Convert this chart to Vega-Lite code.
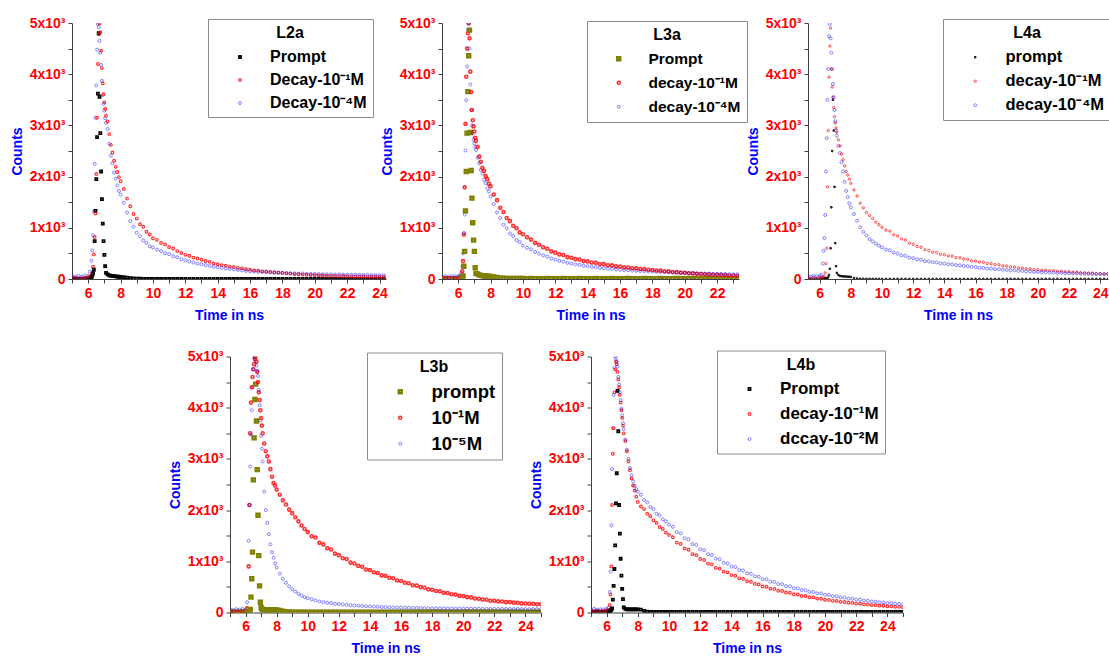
{
"$schema": "https://vega.github.io/schema/vega-lite/v6.json",
"background": "white",
"padding": {"left": 10, "top": 16, "right": 0, "bottom": 0},
"config": {
  "view": {"stroke": null},
  "font": "Liberation Sans",
  "axis": {"grid": false, "domainColor": "#404040", "tickColor": "#404040", "tickSize": 4, "labelFont": "Liberation Sans", "labelFontWeight": "bold", "labelFontSize": 14, "labelColor": "#ff0000", "labelPadding": 3, "titleFont": "Liberation Sans", "titleFontWeight": "bold", "titleFontSize": 14, "titleColor": "#0000ff", "labelOverlap": false, "labelFlush": false},
  "axisX": {"titlePadding": 8},
  "axisY": {"titlePadding": 5},
  "legend": {"labelFont": "Liberation Sans", "labelFontWeight": "bold", "labelFontSize": 16, "labelColor": "#000000", "titleFont": "Liberation Sans", "titleFontWeight": "bold", "titleFontSize": 16, "titleColor": "#000000", "titleAnchor": "middle", "titleAlign": "center", "titlePadding": 8, "strokeColor": "#8c8c8c", "fillColor": "#ffffff", "padding": 6, "rowPadding": 7, "symbolOffset": 18, "labelOffset": 22, "symbolSize": 16, "symbolStrokeWidth": 1.2, "orient": "none"}
},
"datasets": {
"L2a": [
{"t":5,"p":0,"r":15,"b":55},{"t":5.2,"p":2,"r":22,"b":45},{"t":5.4,"p":0,"r":12,"b":62},{"t":5.6,"p":3,"r":18,"b":48},{"t":5.8,"p":4,"r":25,"b":66},{"t":6,"p":8,"r":30,"b":58},{"t":6.1,"p":15,"r":45,"b":140},{"t":6.2,"p":35,"r":70,"b":360},
{"t":6.25,"p":60,"r":120,"b":560},{"t":6.3,"p":110,"r":240,"b":850},{"t":6.35,"p":180,"r":480,"b":1320},{"t":6.4,"p":740,"r":820,"b":2250},{"t":6.45,"p":1330,"r":1280,"b":3150},{"t":6.5,"p":1950,"r":2050,"b":3780},{"t":6.55,"p":2770,"r":3150,"b":4480},{"t":6.6,"p":3620,"r":4200,"b":4980},{"t":6.65,"p":4800,"r":4780,"b":4920},{"t":6.7,"p":3560,"r":4990,"b":4650},{"t":6.75,"p":2850,"r":4820,"b":4420},{"t":6.8,"p":2100,"r":4460,"b":4180},{"t":6.85,"p":1560,"r":4120,"b":3870},{"t":6.9,"p":1080,"r":3820,"b":3590},{"t":6.95,"p":740,"r":3610,"b":3420},{"t":7,"p":470,"r":3450,"b":3290},{"t":7.05,"p":250,"r":3320,"b":3140},{"t":7.1,"p":120,"r":3190,"b":3050},
{"t":7.2,"p":90,"r":3080,"b":2930},{"t":7.3,"p":72,"r":2830,"b":2640},{"t":7.4,"p":65,"r":2620,"b":2410},{"t":7.5,"p":58,"r":2470,"b":2260},{"t":7.6,"p":55,"r":2310,"b":2080},{"t":7.7,"p":50,"r":2190,"b":1960},{"t":7.8,"p":46,"r":2090,"b":1830},{"t":7.9,"p":44,"r":1990,"b":1720},{"t":8,"p":40,"r":1910,"b":1650},
{"t":8.2,"p":34,"r":1760,"b":1490},{"t":8.4,"p":26,"r":1570,"b":1300},{"t":8.6,"p":18,"r":1420,"b":1130},{"t":8.8,"p":12,"r":1270,"b":1020},{"t":9,"p":8,"r":1180,"b":905},{"t":9.2,"p":5,"r":1070,"b":835},{"t":9.4,"p":3,"r":1020,"b":755},{"t":9.6,"p":2,"r":925,"b":705},{"t":9.8,"p":2,"r":870,"b":640},{"t":10,"p":1,"r":795,"b":615},
{"t":10.25,"p":1,"r":765,"b":575},{"t":10.5,"p":0,"r":705,"b":545},{"t":10.75,"p":1,"r":675,"b":505},{"t":11,"p":0,"r":625,"b":485},{"t":11.25,"p":0,"r":595,"b":445},{"t":11.5,"p":1,"r":545,"b":425},{"t":11.75,"p":0,"r":510,"b":385},{"t":12,"p":0,"r":472,"b":362},{"t":12.25,"p":1,"r":455,"b":345},{"t":12.5,"p":0,"r":418,"b":322},{"t":12.75,"p":0,"r":402,"b":300},{"t":13,"p":1,"r":378,"b":288},{"t":13.25,"p":0,"r":352,"b":272},{"t":13.5,"p":0,"r":335,"b":255},{"t":13.75,"p":1,"r":302,"b":238},{"t":14,"p":0,"r":288,"b":226},{"t":14.25,"p":0,"r":272,"b":218},{"t":14.5,"p":1,"r":262,"b":205},{"t":14.75,"p":0,"r":242,"b":198},{"t":15,"p":0,"r":236,"b":186},{"t":15.25,"p":0,"r":218,"b":178},{"t":15.5,"p":1,"r":208,"b":170},{"t":15.75,"p":0,"r":192,"b":158},{"t":16,"p":0,"r":182,"b":150},{"t":16.25,"p":0,"r":168,"b":148},{"t":16.5,"p":1,"r":164,"b":140},{"t":16.75,"p":0,"r":150,"b":138},{"t":17,"p":0,"r":146,"b":134},{"t":17.25,"p":0,"r":138,"b":130},{"t":17.5,"p":1,"r":132,"b":126},{"t":17.75,"p":0,"r":122,"b":124},{"t":18,"p":0,"r":121,"b":118},{"t":18.25,"p":0,"r":110,"b":116},{"t":18.5,"p":1,"r":106,"b":112},{"t":18.75,"p":0,"r":95,"b":110},{"t":19,"p":0,"r":92,"b":106},{"t":19.25,"p":0,"r":86,"b":108},{"t":19.5,"p":1,"r":84,"b":102},{"t":19.75,"p":0,"r":78,"b":100},{"t":20,"p":0,"r":76,"b":98},{"t":20.25,"p":0,"r":70,"b":96},{"t":20.5,"p":1,"r":69,"b":94},{"t":20.75,"p":0,"r":64,"b":92},{"t":21,"p":0,"r":62,"b":90},{"t":21.25,"p":0,"r":60,"b":88},{"t":21.5,"p":1,"r":57,"b":90},{"t":21.75,"p":0,"r":58,"b":86},{"t":22,"p":0,"r":54,"b":84},{"t":22.25,"p":0,"r":52,"b":82},{"t":22.5,"p":1,"r":50,"b":84},{"t":22.75,"p":0,"r":51,"b":80},{"t":23,"p":0,"r":48,"b":78},{"t":23.25,"p":0,"r":47,"b":80},{"t":23.5,"p":1,"r":45,"b":76},{"t":23.75,"p":0,"r":46,"b":78},{"t":24,"p":0,"r":44,"b":74},{"t":24.25,"p":0,"r":42,"b":76},{"t":24.5,"p":1,"r":43,"b":72},{"t":24.75,"p":0,"r":41,"b":74},{"t":25,"p":0,"r":40,"b":72}
],
"L3a": [
{"t":5,"p":8,"r":10,"b":45},{"t":5.2,"p":6,"r":15,"b":55},{"t":5.4,"p":8,"r":8,"b":40},{"t":5.6,"p":7,"r":12,"b":60},{"t":5.8,"p":8,"r":15,"b":50},{"t":6,"p":8,"r":20,"b":55},{"t":6.1,"p":8,"r":30,"b":70},{"t":6.2,"p":10,"r":60,"b":120},
{"t":6.25,"p":20,"r":150,"b":250},{"t":6.3,"p":60,"r":350,"b":500},{"t":6.35,"p":250,"r":870,"b":900},{"t":6.4,"p":540,"r":1790,"b":1260},{"t":6.45,"p":1330,"r":3030,"b":2510},{"t":6.5,"p":2100,"r":3950,"b":3490},{"t":6.55,"p":2850,"r":4500,"b":4150},{"t":6.6,"p":3660,"r":4800,"b":4870},{"t":6.65,"p":4360,"r":5000,"b":4980},{"t":6.7,"p":4860,"r":4700,"b":4500},{"t":6.75,"p":2860,"r":4050,"b":3800},{"t":6.8,"p":2120,"r":3650,"b":3300},{"t":6.85,"p":1580,"r":3300,"b":3000},{"t":6.9,"p":1100,"r":3100,"b":2850},{"t":6.95,"p":760,"r":2980,"b":2720},{"t":7,"p":540,"r":2880,"b":2650},{"t":7.05,"p":220,"r":2760,"b":2580},{"t":7.1,"p":110,"r":2700,"b":2520},
{"t":7.2,"p":100,"r":2580,"b":2370},{"t":7.3,"p":80,"r":2390,"b":2260},{"t":7.4,"p":70,"r":2290,"b":2130},{"t":7.5,"p":65,"r":2170,"b":2060},{"t":7.6,"p":60,"r":2110,"b":1940},{"t":7.7,"p":58,"r":2010,"b":1870},{"t":7.8,"p":55,"r":1950,"b":1770},{"t":7.9,"p":52,"r":1860,"b":1710},{"t":8,"p":50,"r":1810,"b":1610},
{"t":8.2,"p":40,"r":1650,"b":1460},{"t":8.4,"p":30,"r":1540,"b":1300},{"t":8.6,"p":22,"r":1390,"b":1190},{"t":8.8,"p":15,"r":1310,"b":1060},{"t":9,"p":12,"r":1190,"b":990},{"t":9.2,"p":10,"r":1130,"b":890},{"t":9.4,"p":10,"r":1040,"b":840},{"t":9.6,"p":9,"r":990,"b":760},{"t":9.8,"p":9,"r":910,"b":720},{"t":10,"p":9,"r":875,"b":655},
{"t":10.25,"p":8,"r":815,"b":610},{"t":10.5,"p":9,"r":770,"b":580},{"t":10.75,"p":8,"r":705,"b":528},{"t":11,"p":7,"r":668,"b":495},{"t":11.25,"p":8,"r":620,"b":462},{"t":11.5,"p":9,"r":590,"b":436},{"t":11.75,"p":8,"r":540,"b":400},{"t":12,"p":7,"r":515,"b":378},{"t":12.25,"p":8,"r":480,"b":355},{"t":12.5,"p":9,"r":468,"b":340},{"t":12.75,"p":8,"r":428,"b":315},{"t":13,"p":7,"r":415,"b":302},{"t":13.25,"p":8,"r":388,"b":286},{"t":13.5,"p":9,"r":380,"b":278},{"t":13.75,"p":8,"r":350,"b":258},{"t":14,"p":7,"r":345,"b":250},{"t":14.25,"p":8,"r":322,"b":236},{"t":14.5,"p":9,"r":318,"b":232},{"t":14.75,"p":8,"r":292,"b":218},{"t":15,"p":7,"r":290,"b":212},{"t":15.25,"p":8,"r":270,"b":202},{"t":15.5,"p":9,"r":266,"b":198},{"t":15.75,"p":8,"r":246,"b":188},{"t":16,"p":7,"r":243,"b":184},{"t":16.25,"p":8,"r":228,"b":175},{"t":16.5,"p":9,"r":226,"b":173},{"t":16.75,"p":8,"r":211,"b":163},{"t":17,"p":7,"r":208,"b":161},{"t":17.25,"p":8,"r":195,"b":156},{"t":17.5,"p":9,"r":193,"b":154},{"t":17.75,"p":8,"r":180,"b":147},{"t":18,"p":7,"r":177,"b":146},{"t":18.25,"p":8,"r":165,"b":141},{"t":18.5,"p":9,"r":164,"b":139},{"t":18.75,"p":8,"r":150,"b":133},{"t":19,"p":7,"r":148,"b":131},{"t":19.25,"p":8,"r":137,"b":127},{"t":19.5,"p":9,"r":134,"b":125},{"t":19.75,"p":8,"r":124,"b":120},{"t":20,"p":7,"r":122,"b":118},{"t":20.25,"p":8,"r":112,"b":116},{"t":20.5,"p":9,"r":110,"b":114},{"t":20.75,"p":8,"r":101,"b":109},{"t":21,"p":7,"r":99,"b":108},{"t":21.25,"p":8,"r":92,"b":106},{"t":21.5,"p":9,"r":90,"b":105},{"t":21.75,"p":8,"r":82,"b":101},{"t":22,"p":7,"r":81,"b":100},{"t":22.25,"p":8,"r":76,"b":99},{"t":22.5,"p":9,"r":75,"b":97},{"t":22.75,"p":8,"r":69,"b":94},{"t":23,"p":7,"r":68,"b":93},{"t":23.25,"p":8,"r":64,"b":92},{"t":23.5,"p":9,"r":64,"b":91},{"t":23.75,"p":8,"r":59,"b":88},{"t":24,"p":7,"r":58,"b":88},{"t":24.25,"p":8,"r":56,"b":87},{"t":24.5,"p":9,"r":56,"b":88},{"t":24.75,"p":8,"r":52,"b":85},{"t":25,"p":7,"r":52,"b":85}
],
"L4a": [
{"t":5,"p":2,"r":20,"b":50},{"t":5.2,"p":3,"r":25,"b":60},{"t":5.4,"p":2,"r":18,"b":45},{"t":5.6,"p":3,"r":28,"b":62},{"t":5.8,"p":2,"r":22,"b":52},{"t":6,"p":3,"r":25,"b":58},{"t":6.1,"p":3,"r":28,"b":80},{"t":6.2,"p":4,"r":30,"b":300},
{"t":6.25,"p":5,"r":30,"b":550},{"t":6.3,"p":6,"r":50,"b":800},{"t":6.35,"p":8,"r":120,"b":1250},{"t":6.4,"p":10,"r":300,"b":2100},{"t":6.45,"p":15,"r":600,"b":2750},{"t":6.5,"p":20,"r":1800,"b":3500},{"t":6.55,"p":40,"r":2900,"b":4100},{"t":6.6,"p":80,"r":3940,"b":4740},{"t":6.65,"p":200,"r":4550,"b":4980},{"t":6.7,"p":600,"r":4900,"b":4700},{"t":6.75,"p":1400,"r":4100,"b":4420},{"t":6.8,"p":2500,"r":3750,"b":4100},{"t":6.85,"p":3500,"r":3550,"b":3810},{"t":6.9,"p":2900,"r":3350,"b":3550},{"t":6.95,"p":1800,"r":3170,"b":3300},{"t":7,"p":700,"r":3050,"b":3080},{"t":7.05,"p":250,"r":2950,"b":2900},{"t":7.1,"p":120,"r":2870,"b":2800},
{"t":7.2,"p":80,"r":2720,"b":2600},{"t":7.3,"p":60,"r":2600,"b":2460},{"t":7.4,"p":55,"r":2440,"b":2280},{"t":7.5,"p":50,"r":2330,"b":2100},{"t":7.6,"p":50,"r":2210,"b":1900},{"t":7.7,"p":48,"r":2100,"b":1720},{"t":7.8,"p":45,"r":2030,"b":1600},{"t":7.9,"p":45,"r":1950,"b":1480},{"t":8,"p":40,"r":1870,"b":1400},
{"t":8.2,"p":20,"r":1740,"b":1270},{"t":8.4,"p":10,"r":1620,"b":1140},{"t":8.6,"p":6,"r":1480,"b":1010},{"t":8.8,"p":4,"r":1390,"b":920},{"t":9,"p":3,"r":1300,"b":850},{"t":9.2,"p":3,"r":1240,"b":780},{"t":9.4,"p":2,"r":1180,"b":735},{"t":9.6,"p":2,"r":1110,"b":690},{"t":9.8,"p":2,"r":1060,"b":650},{"t":10,"p":2,"r":1010,"b":615},
{"t":10.25,"p":2,"r":955,"b":575},{"t":10.5,"p":2,"r":935,"b":560},{"t":10.75,"p":2,"r":865,"b":515},{"t":11,"p":2,"r":840,"b":495},{"t":11.25,"p":2,"r":785,"b":462},{"t":11.5,"p":2,"r":760,"b":452},{"t":11.75,"p":2,"r":700,"b":418},{"t":12,"p":2,"r":678,"b":404},{"t":12.25,"p":2,"r":635,"b":382},{"t":12.5,"p":2,"r":620,"b":376},{"t":12.75,"p":2,"r":572,"b":350},{"t":13,"p":2,"r":556,"b":343},{"t":13.25,"p":2,"r":525,"b":328},{"t":13.5,"p":2,"r":518,"b":325},{"t":13.75,"p":2,"r":482,"b":306},{"t":14,"p":2,"r":475,"b":302},{"t":14.25,"p":2,"r":450,"b":288},{"t":14.5,"p":2,"r":446,"b":286},{"t":14.75,"p":2,"r":418,"b":270},{"t":15,"p":2,"r":414,"b":267},{"t":15.25,"p":2,"r":390,"b":254},{"t":15.5,"p":2,"r":384,"b":251},{"t":15.75,"p":2,"r":355,"b":236},{"t":16,"p":2,"r":350,"b":233},{"t":16.25,"p":2,"r":330,"b":220},{"t":16.5,"p":2,"r":326,"b":218},{"t":16.75,"p":2,"r":302,"b":204},{"t":17,"p":2,"r":298,"b":202},{"t":17.25,"p":2,"r":280,"b":192},{"t":17.5,"p":2,"r":278,"b":190},{"t":17.75,"p":2,"r":256,"b":180},{"t":18,"p":2,"r":253,"b":177},{"t":18.25,"p":2,"r":238,"b":168},{"t":18.5,"p":2,"r":235,"b":167},{"t":18.75,"p":2,"r":216,"b":158},{"t":19,"p":2,"r":213,"b":157},{"t":19.25,"p":2,"r":200,"b":150},{"t":19.5,"p":2,"r":198,"b":148},{"t":19.75,"p":2,"r":184,"b":141},{"t":20,"p":2,"r":182,"b":139},{"t":20.25,"p":2,"r":172,"b":134},{"t":20.5,"p":2,"r":172,"b":133},{"t":20.75,"p":2,"r":163,"b":127},{"t":21,"p":2,"r":162,"b":126},{"t":21.25,"p":2,"r":152,"b":121},{"t":21.5,"p":2,"r":152,"b":120},{"t":21.75,"p":2,"r":143,"b":113},{"t":22,"p":2,"r":142,"b":113},{"t":22.25,"p":2,"r":133,"b":109},{"t":22.5,"p":2,"r":132,"b":109},{"t":22.75,"p":2,"r":122,"b":104},{"t":23,"p":2,"r":121,"b":103},{"t":23.25,"p":2,"r":115,"b":100},{"t":23.5,"p":2,"r":114,"b":99},{"t":23.75,"p":2,"r":106,"b":94},{"t":24,"p":2,"r":106,"b":94},{"t":24.25,"p":2,"r":101,"b":92},{"t":24.5,"p":2,"r":101,"b":92},{"t":24.75,"p":2,"r":96,"b":88},{"t":25,"p":2,"r":96,"b":88}
],
"L3b": [
{"t":5,"p":5,"r":10,"b":60},{"t":5.2,"p":6,"r":12,"b":45},{"t":5.4,"p":5,"r":8,"b":65},{"t":5.6,"p":6,"r":10,"b":55},{"t":5.8,"p":5,"r":15,"b":70},{"t":6,"p":6,"r":20,"b":60},{"t":6.1,"p":8,"r":80,"b":200},{"t":6.2,"p":10,"r":900,"b":1400},
{"t":6.25,"p":20,"r":2100,"b":2100},{"t":6.3,"p":60,"r":3500,"b":2850},{"t":6.35,"p":300,"r":4100,"b":3470},{"t":6.4,"p":660,"r":4400,"b":3950},{"t":6.45,"p":1180,"r":4600,"b":4400},{"t":6.5,"p":2590,"r":4750,"b":4750},{"t":6.55,"p":3410,"r":4850,"b":4980},{"t":6.6,"p":4160,"r":4950,"b":4980},{"t":6.65,"p":4460,"r":5000,"b":4900},{"t":6.7,"p":3740,"r":4900,"b":4820},{"t":6.75,"p":2790,"r":4700,"b":4720},{"t":6.8,"p":1900,"r":4500,"b":4620},{"t":6.85,"p":1110,"r":4300,"b":4350},{"t":6.9,"p":520,"r":4150,"b":4050},{"t":6.95,"p":200,"r":3950,"b":3750},{"t":7,"p":100,"r":3800,"b":3450},{"t":7.05,"p":70,"r":3650,"b":3200},{"t":7.1,"p":60,"r":3500,"b":2950},
{"t":7.2,"p":55,"r":3300,"b":2360},{"t":7.3,"p":50,"r":3150,"b":2000},{"t":7.4,"p":50,"r":3050,"b":1750},{"t":7.5,"p":50,"r":2950,"b":1530},{"t":7.6,"p":50,"r":2800,"b":1330},{"t":7.7,"p":50,"r":2650,"b":1180},{"t":7.8,"p":50,"r":2530,"b":1070},{"t":7.9,"p":52,"r":2480,"b":960},{"t":8,"p":50,"r":2400,"b":880},
{"t":8.2,"p":40,"r":2300,"b":760},{"t":8.4,"p":25,"r":2190,"b":660},{"t":8.6,"p":15,"r":2110,"b":580},{"t":8.8,"p":10,"r":2010,"b":510},{"t":9,"p":8,"r":1940,"b":455},{"t":9.2,"p":7,"r":1860,"b":410},{"t":9.4,"p":6,"r":1780,"b":365},{"t":9.6,"p":6,"r":1700,"b":330},{"t":9.8,"p":6,"r":1630,"b":300},{"t":10,"p":6,"r":1570,"b":280},
{"t":10.25,"p":6,"r":1490,"b":258},{"t":10.5,"p":6,"r":1465,"b":236},{"t":10.75,"p":6,"r":1360,"b":214},{"t":11,"p":6,"r":1330,"b":202},{"t":11.25,"p":6,"r":1255,"b":190},{"t":11.5,"p":6,"r":1230,"b":184},{"t":11.75,"p":6,"r":1150,"b":170},{"t":12,"p":6,"r":1120,"b":166},{"t":12.25,"p":6,"r":1060,"b":157},{"t":12.5,"p":6,"r":1045,"b":152},{"t":12.75,"p":6,"r":975,"b":140},{"t":13,"p":6,"r":958,"b":137},{"t":13.25,"p":6,"r":910,"b":131},{"t":13.5,"p":6,"r":895,"b":128},{"t":13.75,"p":6,"r":840,"b":120},{"t":14,"p":6,"r":828,"b":119},{"t":14.25,"p":6,"r":785,"b":114},{"t":14.5,"p":6,"r":772,"b":113},{"t":14.75,"p":6,"r":725,"b":106},{"t":15,"p":6,"r":716,"b":106},{"t":15.25,"p":6,"r":680,"b":102},{"t":15.5,"p":6,"r":668,"b":101},{"t":15.75,"p":6,"r":625,"b":96},{"t":16,"p":6,"r":615,"b":96},{"t":16.25,"p":6,"r":582,"b":93},{"t":16.5,"p":6,"r":572,"b":93},{"t":16.75,"p":6,"r":532,"b":89},{"t":17,"p":6,"r":525,"b":89},{"t":17.25,"p":6,"r":496,"b":86},{"t":17.5,"p":6,"r":488,"b":86},{"t":17.75,"p":6,"r":452,"b":83},{"t":18,"p":6,"r":445,"b":83},{"t":18.25,"p":6,"r":420,"b":81},{"t":18.5,"p":6,"r":414,"b":81},{"t":18.75,"p":6,"r":384,"b":78},{"t":19,"p":6,"r":380,"b":79},{"t":19.25,"p":6,"r":356,"b":77},{"t":19.5,"p":6,"r":350,"b":77},{"t":19.75,"p":6,"r":325,"b":75},{"t":20,"p":6,"r":320,"b":76},{"t":20.25,"p":6,"r":300,"b":74},{"t":20.5,"p":6,"r":295,"b":74},{"t":20.75,"p":6,"r":272,"b":72},{"t":21,"p":6,"r":268,"b":73},{"t":21.25,"p":6,"r":253,"b":71},{"t":21.5,"p":6,"r":250,"b":72},{"t":21.75,"p":6,"r":230,"b":70},{"t":22,"p":6,"r":228,"b":71},{"t":22.25,"p":6,"r":218,"b":69},{"t":22.5,"p":6,"r":215,"b":70},{"t":22.75,"p":6,"r":202,"b":68},{"t":23,"p":6,"r":203,"b":69},{"t":23.25,"p":6,"r":192,"b":67},{"t":23.5,"p":6,"r":190,"b":68},{"t":23.75,"p":6,"r":178,"b":66},{"t":24,"p":6,"r":177,"b":67},{"t":24.25,"p":6,"r":170,"b":65},{"t":24.5,"p":6,"r":170,"b":66},{"t":24.75,"p":6,"r":162,"b":65},{"t":25,"p":6,"r":160,"b":65}
],
"L4b": [
{"t":5,"p":10,"r":30,"b":60},{"t":5.2,"p":8,"r":25,"b":70},{"t":5.4,"p":10,"r":35,"b":55},{"t":5.6,"p":9,"r":28,"b":65},{"t":5.8,"p":10,"r":30,"b":60},{"t":6,"p":10,"r":35,"b":70},{"t":6.1,"p":12,"r":50,"b":90},{"t":6.2,"p":20,"r":150,"b":400},
{"t":6.25,"p":30,"r":350,"b":800},{"t":6.3,"p":50,"r":900,"b":1700},{"t":6.35,"p":80,"r":2100,"b":2800},{"t":6.4,"p":250,"r":3100,"b":3600},{"t":6.45,"p":520,"r":3600,"b":4250},{"t":6.5,"p":850,"r":4300,"b":4780},{"t":6.55,"p":1310,"r":4750,"b":5000},{"t":6.6,"p":2130,"r":4900,"b":4960},{"t":6.65,"p":2720,"r":4850,"b":4900},{"t":6.7,"p":4330,"r":4700,"b":4800},{"t":6.75,"p":3540,"r":4550,"b":4600},{"t":6.8,"p":2100,"r":4400,"b":4450},{"t":6.85,"p":1540,"r":4250,"b":4300},{"t":6.9,"p":1050,"r":4100,"b":4150},{"t":6.95,"p":720,"r":3950,"b":3980},{"t":7,"p":460,"r":3800,"b":3850},{"t":7.05,"p":260,"r":3650,"b":3700},{"t":7.1,"p":100,"r":3500,"b":3580},
{"t":7.2,"p":70,"r":3350,"b":3380},{"t":7.3,"p":60,"r":3150,"b":3180},{"t":7.4,"p":60,"r":2950,"b":3000},{"t":7.5,"p":60,"r":2780,"b":2820},{"t":7.6,"p":60,"r":2620,"b":2680},{"t":7.7,"p":60,"r":2480,"b":2560},{"t":7.8,"p":60,"r":2380,"b":2470},{"t":7.9,"p":60,"r":2260,"b":2410},{"t":8,"p":60,"r":2160,"b":2360},
{"t":8.2,"p":55,"r":2070,"b":2300},{"t":8.4,"p":30,"r":2020,"b":2200},{"t":8.6,"p":15,"r":1930,"b":2150},{"t":8.8,"p":10,"r":1880,"b":2060},{"t":9,"p":10,"r":1800,"b":2020},{"t":9.2,"p":10,"r":1750,"b":1930},{"t":9.4,"p":10,"r":1670,"b":1900},{"t":9.6,"p":10,"r":1630,"b":1820},{"t":9.8,"p":10,"r":1560,"b":1780},{"t":10,"p":10,"r":1515,"b":1715},
{"t":10.25,"p":10,"r":1470,"b":1675},{"t":10.5,"p":10,"r":1365,"b":1570},{"t":10.75,"p":10,"r":1340,"b":1545},{"t":11,"p":10,"r":1250,"b":1450},{"t":11.25,"p":10,"r":1225,"b":1428},{"t":11.5,"p":10,"r":1140,"b":1338},{"t":11.75,"p":10,"r":1120,"b":1320},{"t":12,"p":10,"r":1045,"b":1235},{"t":12.25,"p":10,"r":1025,"b":1218},{"t":12.5,"p":10,"r":955,"b":1140},{"t":12.75,"p":10,"r":940,"b":1126},{"t":13,"p":10,"r":872,"b":1052},{"t":13.25,"p":10,"r":858,"b":1040},{"t":13.5,"p":10,"r":798,"b":972},{"t":13.75,"p":10,"r":785,"b":960},{"t":14,"p":10,"r":730,"b":898},{"t":14.25,"p":10,"r":718,"b":888},{"t":14.5,"p":10,"r":668,"b":829},{"t":14.75,"p":10,"r":656,"b":820},{"t":15,"p":10,"r":610,"b":765},{"t":15.25,"p":10,"r":600,"b":758},{"t":15.5,"p":10,"r":558,"b":707},{"t":15.75,"p":10,"r":549,"b":700},{"t":16,"p":10,"r":510,"b":652},{"t":16.25,"p":10,"r":502,"b":646},{"t":16.5,"p":10,"r":466,"b":603},{"t":16.75,"p":10,"r":460,"b":597},{"t":17,"p":10,"r":426,"b":556},{"t":17.25,"p":10,"r":420,"b":552},{"t":17.5,"p":10,"r":390,"b":514},{"t":17.75,"p":10,"r":385,"b":510},{"t":18,"p":10,"r":356,"b":475},{"t":18.25,"p":10,"r":352,"b":471},{"t":18.5,"p":10,"r":326,"b":439},{"t":18.75,"p":10,"r":322,"b":435},{"t":19,"p":10,"r":298,"b":405},{"t":19.25,"p":10,"r":294,"b":402},{"t":19.5,"p":10,"r":272,"b":374},{"t":19.75,"p":10,"r":269,"b":372},{"t":20,"p":10,"r":249,"b":346},{"t":20.25,"p":10,"r":246,"b":343},{"t":20.5,"p":10,"r":228,"b":319},{"t":20.75,"p":10,"r":225,"b":317},{"t":21,"p":10,"r":208,"b":295},{"t":21.25,"p":10,"r":206,"b":293},{"t":21.5,"p":10,"r":190,"b":272},{"t":21.75,"p":10,"r":188,"b":270},{"t":22,"p":10,"r":174,"b":251},{"t":22.25,"p":10,"r":173,"b":250},{"t":22.5,"p":10,"r":159,"b":232},{"t":22.75,"p":10,"r":158,"b":231},{"t":23,"p":10,"r":145,"b":214},{"t":23.25,"p":10,"r":144,"b":213},{"t":23.5,"p":10,"r":133,"b":198},{"t":23.75,"p":10,"r":132,"b":197},{"t":24,"p":10,"r":121,"b":183},{"t":24.25,"p":10,"r":121,"b":182},{"t":24.5,"p":10,"r":111,"b":169},{"t":24.75,"p":10,"r":110,"b":168},{"t":25,"p":10,"r":102,"b":157}
]
},
"vconcat": [
{
 "hconcat": [
  {
   "width": 314, "height": 256,
   "data": {"name": "L2a"},
   "transform": [{"fold": ["p","r","b"], "as": ["s","c"]}],
   "mark": {"type": "point", "filled": false, "clip": true},
   "encoding": {
    "x": {"field": "t", "type": "quantitative", "scale": {"domain": [5, 24.4], "nice": false, "zero": false}, "axis": {"title": "Time in ns", "values": [5,6,7,8,9,10,11,12,13,14,15,16,17,18,19,20,21,22,23,24], "labelExpr": "datum.value % 2 == 0 ? datum.label : ''"}},
    "y": {"field": "c", "type": "quantitative", "scale": {"domain": [0, 5000], "nice": false}, "axis": {"title": "Counts", "values": [0,500,1000,1500,2000,2500,3000,3500,4000,4500,5000], "labelExpr": "datum.value == 0 ? '0' : (datum.value % 1000 == 0 ? (datum.value / 1000) + 'x10³' : '')"}},
    "color": {"field": "s", "type": "nominal", "scale": {"domain": ["p","r","b"], "range": ["#000000","#ff0000","#0000ff"]}, "legend": {"title": "L2a", "legendX": 136, "legendY": -4, "labelExpr": "datum.label == 'p' ? 'Prompt' : (datum.label == 'r' ? 'Decay-10⁻¹M' : 'Decay-10⁻⁴M')"}},
    "shape": {"field": "s", "type": "nominal", "scale": {"domain": ["p","r","b"], "range": ["square","circle","circle"]}, "legend": {"title": "L2a", "legendX": 136, "legendY": -4, "labelExpr": "datum.label == 'p' ? 'Prompt' : (datum.label == 'r' ? 'Decay-10⁻¹M' : 'Decay-10⁻⁴M')"}},
    "size": {"field": "s", "type": "nominal", "scale": {"domain": ["p","r","b"], "range": [5, 9, 9]}, "legend": null},
    "strokeWidth": {"field": "s", "type": "nominal", "scale": {"domain": ["p","r","b"], "range": [1.6, 0.8, 0.8]}, "legend": null},
    "opacity": {"field": "s", "type": "nominal", "scale": {"domain": ["p","r","b"], "range": [1, 0.6, 0.6]}, "legend": null}
   }
  },
  {
   "hconcat": [
    {
     "width": 297, "height": 256,
     "data": {"name": "L3a"},
     "transform": [{"fold": ["p","r","b"], "as": ["s","c"]}],
     "mark": {"type": "point", "filled": false, "clip": true},
     "encoding": {
      "x": {"field": "t", "type": "quantitative", "scale": {"domain": [5, 23.35], "nice": false, "zero": false}, "axis": {"title": "Time in ns", "values": [5,6,7,8,9,10,11,12,13,14,15,16,17,18,19,20,21,22,23], "labelExpr": "datum.value % 2 == 0 ? datum.label : ''"}},
      "y": {"field": "c", "type": "quantitative", "scale": {"domain": [0, 5000], "nice": false}, "axis": {"title": "Counts", "values": [0,500,1000,1500,2000,2500,3000,3500,4000,4500,5000], "labelExpr": "datum.value == 0 ? '0' : (datum.value % 1000 == 0 ? (datum.value / 1000) + 'x10³' : '')"}},
      "color": {"field": "s", "type": "nominal", "scale": {"domain": ["p","r","b"], "range": ["#808000","#ff0000","#0000ff"]}, "legend": {"title": "L3a", "legendX": 145, "legendY": -2, "labelFontSize": 15.5, "labelExpr": "datum.label == 'p' ? 'Prompt' : (datum.label == 'r' ? 'decay-10⁻¹M' : 'decay-10⁻⁴M')"}},
      "shape": {"field": "s", "type": "nominal", "scale": {"domain": ["p","r","b"], "range": ["square","circle","circle"]}, "legend": {"title": "L3a", "legendX": 145, "legendY": -2, "labelFontSize": 15.5, "labelExpr": "datum.label == 'p' ? 'Prompt' : (datum.label == 'r' ? 'decay-10⁻¹M' : 'decay-10⁻⁴M')"}},
      "size": {"field": "s", "type": "nominal", "scale": {"domain": ["p","r","b"], "range": [9, 9, 9]}, "legend": null},
      "strokeWidth": {"field": "s", "type": "nominal", "scale": {"domain": ["p","r","b"], "range": [2.4, 0.8, 0.8]}, "legend": null},
      "opacity": {"field": "s", "type": "nominal", "scale": {"domain": ["p","r","b"], "range": [1, 0.6, 0.6]}, "legend": null}
     }
    },
    {
     "width": 300, "height": 256,
     "data": {"name": "L4a"},
     "transform": [{"fold": ["p","r","b"], "as": ["s","c"]}],
     "mark": {"type": "point", "filled": false, "clip": true},
     "encoding": {
      "x": {"field": "t", "type": "quantitative", "scale": {"domain": [5.25, 24.5], "nice": false, "zero": false}, "axis": {"title": "Time in ns", "values": [6,7,8,9,10,11,12,13,14,15,16,17,18,19,20,21,22,23,24], "labelExpr": "datum.value % 2 == 0 ? datum.label : ''"}},
      "y": {"field": "c", "type": "quantitative", "scale": {"domain": [0, 5000], "nice": false}, "axis": {"title": "Counts", "values": [0,500,1000,1500,2000,2500,3000,3500,4000,4500,5000], "labelExpr": "datum.value == 0 ? '0' : (datum.value % 1000 == 0 ? (datum.value / 1000) + 'x10³' : '')"}},
      "color": {"field": "s", "type": "nominal", "scale": {"domain": ["p","r","b"], "range": ["#000000","#ff0000","#0000ff"]}, "legend": {"title": "L4a", "legendX": 135, "legendY": -4, "labelFontSize": 16.5, "labelExpr": "datum.label == 'p' ? 'prompt' : (datum.label == 'r' ? 'decay-10⁻¹M' : 'decay-10⁻⁴M')"}},
      "shape": {"field": "s", "type": "nominal", "scale": {"domain": ["p","r","b"], "range": ["square","circle","circle"]}, "legend": {"title": "L4a", "legendX": 135, "legendY": -4, "labelFontSize": 16.5, "labelExpr": "datum.label == 'p' ? 'prompt' : (datum.label == 'r' ? 'decay-10⁻¹M' : 'decay-10⁻⁴M')"}},
      "size": {"field": "s", "type": "nominal", "scale": {"domain": ["p","r","b"], "range": [2, 9, 9]}, "legend": null},
      "strokeWidth": {"field": "s", "type": "nominal", "scale": {"domain": ["p","r","b"], "range": [1, 0.8, 0.8]}, "legend": null},
      "opacity": {"field": "s", "type": "nominal", "scale": {"domain": ["p","r","b"], "range": [1, 0.6, 0.6]}, "legend": null}
     }
    }
   ],
   "spacing": 69,
   "bounds": "flush",
   "resolve": {"scale": {"color": "independent", "shape": "independent", "size": "independent", "strokeWidth": "independent", "opacity": "independent"}, "legend": {"color": "independent", "shape": "independent"}}
  }
 ],
 "spacing": 56,
 "bounds": "flush",
 "resolve": {"scale": {"color": "independent", "shape": "independent", "size": "independent", "strokeWidth": "independent", "opacity": "independent"}, "legend": {"color": "independent", "shape": "independent"}}
},
{
 "hconcat": [
  {
   "width": 108, "height": 10,
   "data": {"values": [{"a": 0}]},
   "mark": {"type": "point", "opacity": 0},
   "encoding": {}
  },
  {
   "width": 311, "height": 256,
   "data": {"name": "L3b"},
   "transform": [{"fold": ["p","r","b"], "as": ["s","c"]}],
   "mark": {"type": "point", "filled": false, "clip": true},
   "encoding": {
    "x": {"field": "t", "type": "quantitative", "scale": {"domain": [5, 25], "nice": false, "zero": false}, "axis": {"title": "Time in ns", "values": [5,6,7,8,9,10,11,12,13,14,15,16,17,18,19,20,21,22,23,24,25], "labelExpr": "datum.value % 2 == 0 ? datum.label : ''"}},
    "y": {"field": "c", "type": "quantitative", "scale": {"domain": [0, 5000], "nice": false}, "axis": {"title": "Counts", "values": [0,500,1000,1500,2000,2500,3000,3500,4000,4500,5000], "labelExpr": "datum.value == 0 ? '0' : (datum.value % 1000 == 0 ? (datum.value / 1000) + 'x10³' : '')"}},
    "color": {"field": "s", "type": "nominal", "scale": {"domain": ["p","r","b"], "range": ["#808000","#ff0000","#0000ff"]}, "legend": {"title": "L3b", "legendX": 137, "legendY": -4, "labelFontSize": 18.5, "labelExpr": "datum.label == 'p' ? 'prompt' : (datum.label == 'r' ? '10⁻¹M' : '10⁻⁵M')"}},
    "shape": {"field": "s", "type": "nominal", "scale": {"domain": ["p","r","b"], "range": ["square","circle","circle"]}, "legend": {"title": "L3b", "legendX": 137, "legendY": -4, "labelFontSize": 18.5, "labelExpr": "datum.label == 'p' ? 'prompt' : (datum.label == 'r' ? '10⁻¹M' : '10⁻⁵M')"}},
    "size": {"field": "s", "type": "nominal", "scale": {"domain": ["p","r","b"], "range": [9, 9, 9]}, "legend": null},
    "strokeWidth": {"field": "s", "type": "nominal", "scale": {"domain": ["p","r","b"], "range": [2.4, 0.8, 0.8]}, "legend": null},
    "opacity": {"field": "s", "type": "nominal", "scale": {"domain": ["p","r","b"], "range": [1, 0.6, 0.6]}, "legend": null}
   }
  },
  {
   "width": 312, "height": 256,
   "data": {"name": "L4b"},
   "transform": [{"fold": ["p","r","b"], "as": ["s","c"]}],
   "mark": {"type": "point", "filled": false, "clip": true},
   "encoding": {
    "x": {"field": "t", "type": "quantitative", "scale": {"domain": [5, 25], "nice": false, "zero": false}, "axis": {"title": "Time in ns", "values": [5,6,7,8,9,10,11,12,13,14,15,16,17,18,19,20,21,22,23,24,25], "labelExpr": "datum.value % 2 == 0 ? datum.label : ''"}},
    "y": {"field": "c", "type": "quantitative", "scale": {"domain": [0, 5000], "nice": false}, "axis": {"title": "Counts", "values": [0,500,1000,1500,2000,2500,3000,3500,4000,4500,5000], "labelExpr": "datum.value == 0 ? '0' : (datum.value % 1000 == 0 ? (datum.value / 1000) + 'x10³' : '')"}},
    "color": {"field": "s", "type": "nominal", "scale": {"domain": ["p","r","b"], "range": ["#000000","#ff0000","#0000ff"]}, "legend": {"title": "L4b", "legendX": 126, "legendY": -6, "labelFontSize": 17, "labelExpr": "datum.label == 'p' ? 'Prompt' : (datum.label == 'r' ? 'decay-10⁻¹M' : 'dccay-10⁻²M')"}},
    "shape": {"field": "s", "type": "nominal", "scale": {"domain": ["p","r","b"], "range": ["square","circle","circle"]}, "legend": {"title": "L4b", "legendX": 126, "legendY": -6, "labelFontSize": 17, "labelExpr": "datum.label == 'p' ? 'Prompt' : (datum.label == 'r' ? 'decay-10⁻¹M' : 'dccay-10⁻²M')"}},
    "size": {"field": "s", "type": "nominal", "scale": {"domain": ["p","r","b"], "range": [5, 9, 9]}, "legend": null},
    "strokeWidth": {"field": "s", "type": "nominal", "scale": {"domain": ["p","r","b"], "range": [1.6, 0.8, 0.8]}, "legend": null},
    "opacity": {"field": "s", "type": "nominal", "scale": {"domain": ["p","r","b"], "range": [1, 0.6, 0.6]}, "legend": null}
   }
  }
 ],
 "spacing": 50,
 "bounds": "flush",
 "resolve": {"scale": {"color": "independent", "shape": "independent", "size": "independent", "strokeWidth": "independent", "opacity": "independent"}, "legend": {"color": "independent", "shape": "independent"}}
}
],
"spacing": 27.5,
"bounds": "full",
"resolve": {"scale": {"color": "independent", "shape": "independent", "size": "independent", "strokeWidth": "independent", "opacity": "independent"}, "legend": {"color": "independent", "shape": "independent"}}
}
